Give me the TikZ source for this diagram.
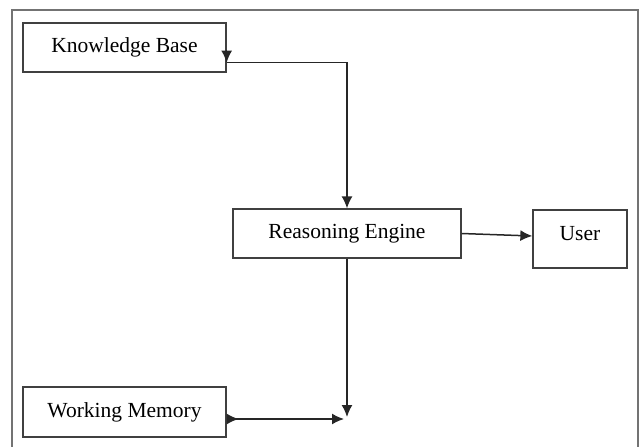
\documentclass[tikz,border=0pt]{standalone}
\usepackage{fontspec}
\setmainfont{Liberation Serif}
\usepackage{tikz}
\usetikzlibrary{arrows.meta,calc}

\tikzset{
  block/.style={draw=black!75, line width=1.3pt, inner sep=0pt,
    font=\fontsize{21.5}{24}\selectfont},
  link/.style={draw=black!85, line width=1.5pt},
  tip/.style={-{Latex[length=12pt,width=11pt]}}
}

\begin{document}
\begin{tikzpicture}[x=1pt,y=-1pt]
\useasboundingbox (0,0) rectangle (640,447);
%
% outer frame, runs off the bottom
\draw [black!55, line width=2pt] (12,452) -- (12,10) -- (638,10) -- (638,452);
%
\node [block, minimum width=203, minimum height=49] (kb)   at (124.5,47.5) {Knowledge Base};
\node [block, minimum width=228, minimum height=49] (re)   at (347,233.5) {Reasoning Engine};
\node [block, minimum width=94,  minimum height=58] (user) at (580,239) {User\rule[-12pt]{0pt}{1pt}};
\node [block, minimum width=203, minimum height=50] (wm)   at (124.5,412) {Working Memory};
%
\coordinate (kbout) at ($(kb.south east)!0.2!(kb.north east)$);
\coordinate (wmout) at ([yshift=-7]wm.east);
\coordinate (join)  at (re.south |- wmout);
%
\draw [link, tip] (kbout) -| (re.north);
\draw [link, tip] ([yshift=13]kbout) -- (kbout);
\draw [link, tip] (re.east) -- ([yshift=3]user.west);
\draw [link, tip] (re.south) -- ([yshift=2]join);
\draw [link, {Latex[length=12pt,width=11pt,reversed]}-{Latex[length=12pt,width=11pt]}] (wmout) -- ([xshift=-3]join);
%%%%%%%%%%%%%%%%%%%%%%%%%%%%%%%
\end{tikzpicture}
\end{document}
